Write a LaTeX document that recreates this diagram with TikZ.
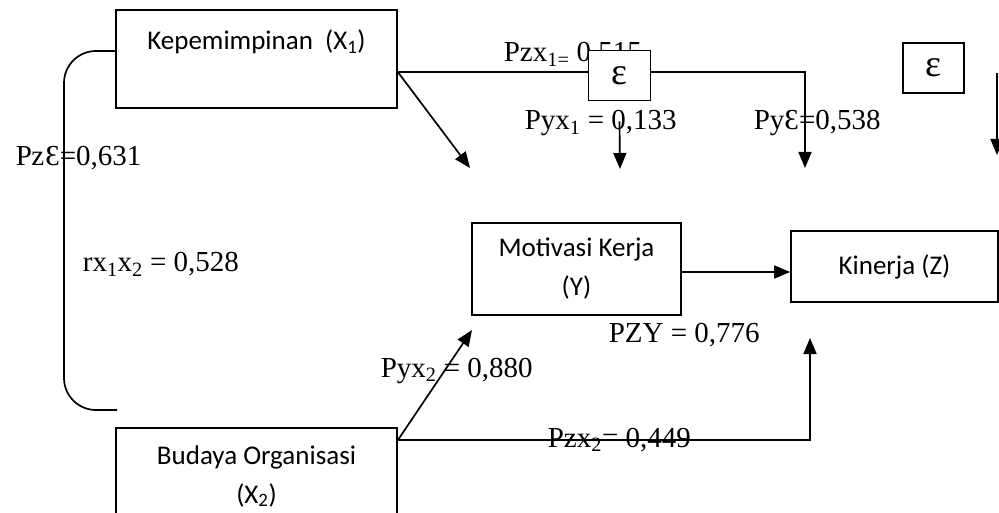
\documentclass[tikz,border=0pt]{standalone}
\usepackage{fontspec}
\setmainfont{Liberation Serif}
\newfontfamily\boxfont{Carlito}
\usetikzlibrary{arrows.meta}

\begin{document}
\begin{tikzpicture}[x=1pt,y=-1pt,>={Triangle[length=16pt,width=13pt]},line width=1.7pt,
  var/.style={draw,inner sep=0pt,align=center,font=\boxfont\fontsize{27}{39}\selectfont},
  err/.style={draw,fill=white,inner sep=0pt,minimum width=62pt,minimum height=50pt,font=\fontsize{38}{40}\selectfont},
  coef/.style={anchor=base west,inner sep=0pt,font=\fontsize{29}{34}\selectfont}]

\useasboundingbox (0,0) rectangle (999,513);

% variables
\node[var,minimum width=281pt,minimum height=98pt] (kep) at (256.5,59) {Kepemimpinan~~(X\textsubscript{1})\\ \mbox{}};
\node[var,minimum width=209pt,minimum height=92pt] (mot) at (576.5,269) {Motivasi Kerja\\(Y)};
\node[var,minimum width=207pt,minimum height=71pt] (kin) at (894.5,266.5) {\raisebox{4pt}{Kinerja (Z)}};
\node[var,minimum width=281pt,minimum height=96pt] (bud) at (256.5,476) {Budaya Organisasi\\(X\textsubscript{2})};

% coefficients
\node[coef] (pze) at (15,166) {P\kern-0.5pt z\kern1pt Ɛ=0,631};
\node[coef] (rxx) at (82,272) {rx\textsubscript{1}x\textsubscript{2} = 0,528};
\node[coef] (pzx1) at (503,62) {Pzx\textsubscript{1=} 0,515};
\node[coef] (pyx1) at (524,130) {Pyx\textsubscript{1} = 0,133};
\node[coef] (pye) at (753,130) {PyƐ=0,538};
\node[coef] (pzy) at (608,342) {PZY = 0,776};
\node[coef] (pyx2) at (380,377) {Pyx\textsubscript{2} = 0,880};
\node[coef] (pzx2) at (547,447) {Pzx\textsubscript{2}= 0,449};

% free ends
\coordinate (k1) at ([yshift=8pt]kep.west);
\coordinate (k2) at ([yshift=-13pt]kep.east);
\coordinate (r0) at (64,410);
\coordinate (r1) at (117,410);
\coordinate (t1) at (470,168);
\coordinate (t2) at (805,168);
\coordinate (m1) at ([yshift=-3pt]mot.east);
\coordinate (b1) at ([yshift=-13pt]bud.north east);
\coordinate (t3) at (472,330);
\coordinate (t4) at (810,338);

\draw[rounded corners=32pt] (k1) -| (r0) -- (r1);
\draw[->] (k2) -- (t1);
\draw[->] (k2) -| (t2);
\draw[->] (m1) -- (m1 -| kin.west);
\draw[->] (b1) -- (t3);
\draw[->] (b1) -| (t4);

% errors
\node[err] (eps1) at (619.5,75.5) {ɛ};
\node[err,minimum width=61pt] (eps2) at (933.5,68) {ɛ};
\coordinate (e1) at (620,169);
\coordinate (e2a) at (997,73);
\coordinate (e2b) at (997,155);
\draw[->] ([yshift=-20pt]eps1.south) -- (e1);
\draw[->] (e2a) -- (e2b);

\end{tikzpicture}
\end{document}
